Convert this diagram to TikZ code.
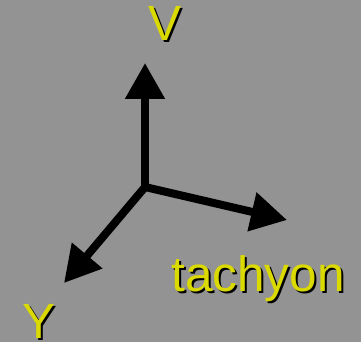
\documentclass[tikz,border=0pt]{standalone}
\usepackage{fontspec}
\setmainfont{Liberation Sans}
\usetikzlibrary{arrows.meta}
\definecolor{bg}{RGB}{147,147,147}
\definecolor{lbl}{RGB}{218,218,0}
\tikzset{
  axis/.style={line width=8pt, draw=black, -{Triangle[length=36pt,width=38pt]}},
  shadowtxt/.style={text=black, inner sep=0pt, anchor=base, font=\fontsize{49.5}{50}\selectfont},
  txt/.style={text=lbl, inner sep=0pt, anchor=base, font=\fontsize{49.5}{50}\selectfont}
}
\begin{document}
\begin{tikzpicture}[x=1pt,y=-1pt]
\fill[bg] (0,0) rectangle (361,342);
\useasboundingbox (0,0) rectangle (361,342);
\coordinate (O) at (145,187);
\coordinate (Vt) at (145,63);
\coordinate (Tt) at (287,220);
\coordinate (Yt) at (64,283);
\draw[axis] (O) -- (Vt);
\draw[axis] (O) -- (Tt);
\draw[axis] (O) -- (Yt);
\node[shadowtxt] at (167,43) {V};
\node[txt] (V) at (165,41) {V};
\node[shadowtxt] at (260,293) {tachyon};
\node[txt] (T) at (258,291) {tachyon};
\node[shadowtxt] at (41,340) {Y};
\node[txt] (Y) at (39,338) {Y};
\end{tikzpicture}
\end{document}
